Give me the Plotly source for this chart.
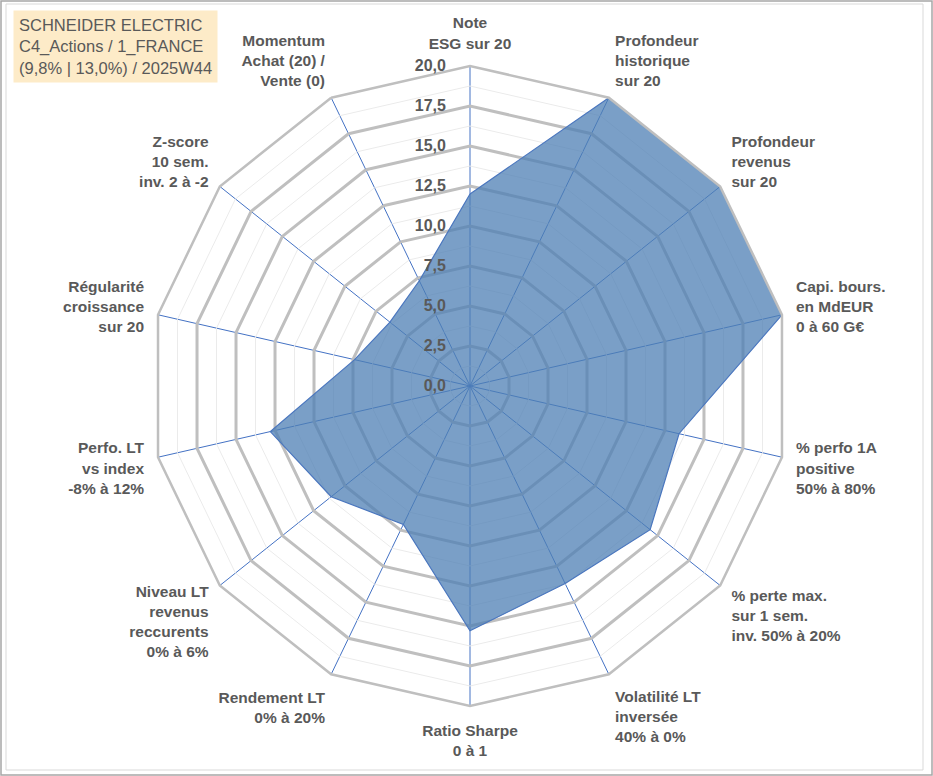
import plotly.graph_objects as go

# axes of the radar, clockwise from the top
categories = [
    "Note<br>ESG sur 20",
    "Profondeur<br>historique<br>sur 20",
    "Profondeur<br>revenus<br>sur 20",
    "Capi. bours.<br>en MdEUR<br>0 à 60 G€",
    "% perfo 1A<br>positive<br>50% à 80%",
    "% perte max.<br>sur 1 sem.<br>inv. 50% à 20%",
    "Volatilité LT<br>inversée<br>40% à 0%",
    "Ratio Sharpe<br>0 à 1",
    "Rendement LT<br>0% à 20%",
    "Niveau LT<br>revenus<br>reccurents<br>0% à 6%",
    "Perfo. LT<br>vs index<br>-8% à 12%",
    "Régularité<br>croissance<br>sur 20",
    "Z-score<br>10 sem.<br>inv. 2 à -2",
    "Momentum<br>Achat (20) /<br>Vente (0)",
]
scores = [12.0, 20.0, 20.0, 20.0, 13.4, 14.4, 13.7, 15.3, 9.6, 11.1, 12.8, 7.4, 6.4, 7.3]

major_levels = [0, 2.5, 5, 7.5, 10, 12.5, 15, 17.5, 20]
minor_levels = [1.25, 3.75, 6.25, 8.75, 11.25, 13.75, 16.25, 18.75]

title_lines = ["SCHNEIDER ELECTRIC", "C4_Actions / 1_FRANCE", "(9,8% | 13,0%) / 2025W44"]

W, H = 933, 776
L, R, T, B = 150, 143, 66, 70

grey_txt = "#595959"
fig = go.Figure()

# thin intermediate rings
for lv in minor_levels:
    fig.add_scatterpolar(
        r=[lv] * (len(categories) + 1),
        theta=categories + categories[:1],
        mode="lines",
        line=dict(color="#EBEBEB", width=1),
        hoverinfo="skip",
        showlegend=False,
    )

fig.add_scatterpolar(
    r=scores + scores[:1],
    theta=categories + categories[:1],
    mode="lines",
    fill="toself",
    fillcolor="rgba(78,127,180,0.75)",
    line=dict(color="#4A76BE", width=1.2),
    hoverinfo="skip",
    showlegend=False,
)

fig.update_layout(
    width=W,
    height=H,
    margin=dict(l=L, r=R, t=T, b=B),
    paper_bgcolor="white",
    separators=", ",
    showlegend=False,
    polar=dict(
        bgcolor="white",
        gridshape="linear",
        radialaxis=dict(
            range=[0, 20],
            tickvals=major_levels,
            tickformat=".1f",
            tickangle=90,
            angle=90,
            side="counterclockwise",
            showline=False,
            ticks="outside",
            ticklen=18,
            tickcolor="rgba(0,0,0,0)",
            gridcolor="#BFBFBF",
            gridwidth=2.5,
            tickfont=dict(family="Liberation Sans", size=16, color=grey_txt, weight="bold"),
        ),
        angularaxis=dict(
            direction="clockwise",
            rotation=90,
            gridcolor="#4472C4",
            gridwidth=1.3,
            linecolor="#BFBFBF",
            linewidth=2.5,
            ticks="outside",
            ticklen=10,
            tickcolor="rgba(0,0,0,0)",
            tickfont=dict(family="Liberation Sans", size=15.5, color=grey_txt, weight="bold"),
        ),
    ),
)


def px_x(p):
    return (p - L) / (W - L - R)


def px_y(p):
    return (H - B - p) / (H - T - B)


# chart borders
fig.add_shape(type="rect", xref="paper", yref="paper",
              x0=px_x(1), x1=px_x(932), y0=px_y(775), y1=px_y(1),
              line=dict(color="#A6A6A6", width=1.5))
fig.add_shape(type="rect", xref="paper", yref="paper",
              x0=px_x(6), x1=px_x(923), y0=px_y(770), y1=px_y(4),
              line=dict(color="#D9D9D9", width=1))

fig.add_annotation(
    xref="paper", yref="paper",
    x=px_x(13), y=px_y(10), xanchor="left", yanchor="top",
    text="<br>".join(title_lines),
    align="left",
    showarrow=False,
    bgcolor="#FDEBC8",
    borderpad=5,
    font=dict(family="Liberation Sans", size=16.5, color=grey_txt),
)

fig.write_html("out.html", config={"displayModeBar": False},
               post_script="document.body.style.margin='0';")
